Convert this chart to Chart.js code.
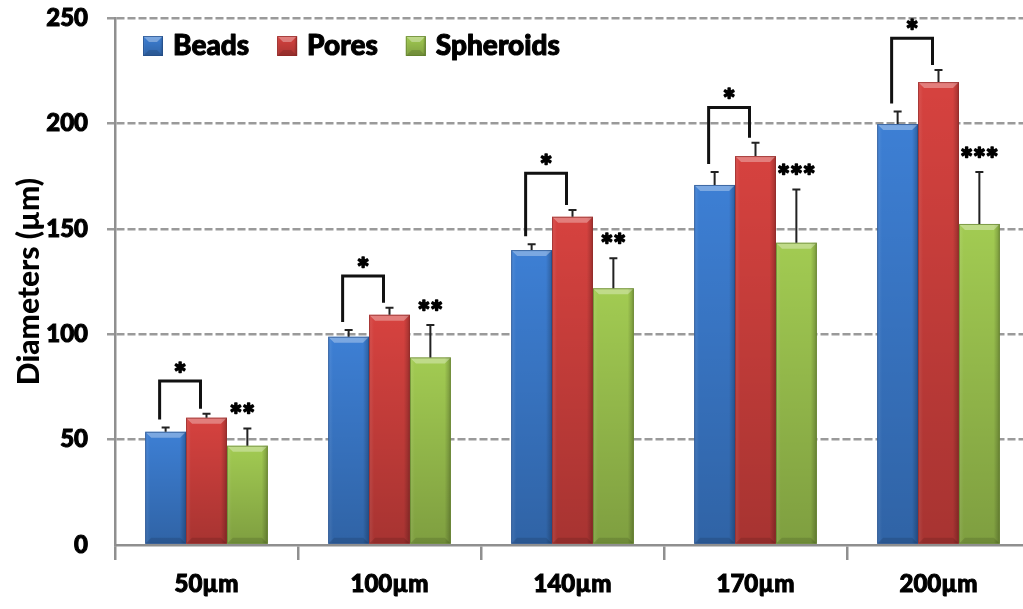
<!DOCTYPE html>
<html>
<head>
<meta charset="utf-8">
<script src="https://cdn.jsdelivr.net/npm/chart.js@4/dist/chart.umd.min.js"></script>
<style>
  html, body { margin: 0; padding: 0; background: #ffffff; overflow: hidden; }
  #wrap { width: 1023px; height: 609px; overflow: hidden; }
</style>
</head>
<body>
<div id="wrap"><canvas id="c" width="1030" height="609"></canvas></div>
<script>
// Particle sizes per template diameter
const categories = ['50µm', '100µm', '140µm', '170µm', '200µm'];
const beads = [53.7, 98.8, 139.9, 170.8, 199.7];
const pores = [60.4, 109.2, 155.7, 184.5, 219.6];
const spheroids = [47.1, 89.0, 121.8, 143.4, 152.3];
// Upper error (SD)
const beadsErr = [2.0, 3.2, 2.8, 6.2, 5.9];
const poresErr = [1.9, 3.4, 3.2, 6.3, 5.7];
const spheroidsErr = [8.2, 15.4, 14.2, 25.3, 24.7];
// Significance markers
const bracketTop = [77.8, 127.6, 176.3, 207.6, 240.4];
const pairLabels = ['*', '*', '*', '*', '*'];
const spheroidLabels = ['**', '**', '**', '***', '***'];
const yMin = 0, yMax = 250, yStep = 50;

const FONT = 'Lato, "DejaVu Sans", sans-serif';
const COLORS = ['#3d7fd4', '#d6423f', '#a2cb52'];
const DARK = ['#244d88', '#8e2725', '#5f7f2a'];
const errs = [beadsErr, poresErr, spheroidsErr];

function bevel(ctx, left, top, right, bottom, i) {
  const w = right - left, h = bottom - top;
  // darker toward the base
  const g = ctx.createLinearGradient(0, top, 0, bottom);
  g.addColorStop(0, 'rgba(0,0,0,0)');
  g.addColorStop(1, 'rgba(0,0,0,0.22)');
  ctx.fillStyle = g;
  ctx.fillRect(left, top, w, h);
  // side shading
  const s = ctx.createLinearGradient(left, 0, right, 0);
  s.addColorStop(0, 'rgba(255,255,255,0.10)');
  s.addColorStop(0.12, 'rgba(255,255,255,0)');
  s.addColorStop(0.85, 'rgba(0,0,0,0)');
  s.addColorStop(1, 'rgba(0,0,0,0.25)');
  ctx.fillStyle = s;
  ctx.fillRect(left, top, w, h);
  // top bevel
  const b = Math.min(6, h / 2);
  ctx.beginPath();
  ctx.moveTo(left, top);
  ctx.lineTo(right, top);
  ctx.lineTo(right - b, top + b);
  ctx.lineTo(left + b, top + b);
  ctx.closePath();
  ctx.fillStyle = 'rgba(255,255,255,0.32)';
  ctx.fill();
  // base bevel
  ctx.beginPath();
  ctx.moveTo(left, bottom);
  ctx.lineTo(right, bottom);
  ctx.lineTo(right - b, bottom - b);
  ctx.lineTo(left + b, bottom - b);
  ctx.closePath();
  ctx.fillStyle = 'rgba(0,0,0,0.12)';
  ctx.fill();
  ctx.strokeStyle = DARK[i];
  ctx.globalAlpha = 0.7;
  ctx.lineWidth = 1;
  ctx.strokeRect(left + 0.5, top + 0.5, w - 1, h - 1);
  ctx.globalAlpha = 1;
}

// heavy text: fill plus a thin outline
function heavyText(ctx, text, x, y, sw) {
  ctx.lineWidth = sw;
  ctx.strokeStyle = '#000';
  ctx.lineJoin = 'round';
  ctx.strokeText(text, x, y);
  ctx.fillText(text, x, y);
}

const decor = {
  id: 'decor',
  afterDatasetsDraw(chart) {
    const ctx = chart.ctx;
    const y = chart.scales.y;
    ctx.save();
    // bar shading
    chart.data.datasets.forEach((ds, i) => {
      chart.getDatasetMeta(i).data.forEach(bar => {
        const left = bar.x - bar.width / 2, right = bar.x + bar.width / 2;
        bevel(ctx, left, bar.y, right, bar.base, i);
      });
    });
    // upper error bars
    chart.data.datasets.forEach((ds, i) => {
      chart.getDatasetMeta(i).data.forEach((bar, j) => {
        const yt = y.getPixelForValue(ds.data[j] + errs[i][j]);
        ctx.strokeStyle = '#222';
        ctx.lineWidth = 2;
        ctx.beginPath();
        ctx.moveTo(bar.x, bar.y);
        ctx.lineTo(bar.x, yt);
        ctx.moveTo(bar.x - 4, yt);
        ctx.lineTo(bar.x + 4, yt);
        ctx.stroke();
      });
    });
    // brackets between beads and pores, labels over spheroids
    const mB = chart.getDatasetMeta(0).data, mP = chart.getDatasetMeta(1).data, mS = chart.getDatasetMeta(2).data;
    ctx.font = '900 30px ' + FONT;
    ctx.textAlign = 'center';
    ctx.textBaseline = 'middle';
    categories.forEach((c, j) => {
      const xl = mB[j].x - 6, xr = mP[j].x - 6;
      const yl = y.getPixelForValue(beads[j] + beadsErr[j]) - 8;
      const yr = y.getPixelForValue(pores[j] + poresErr[j]) - 5;
      const yt = y.getPixelForValue(bracketTop[j]);
      ctx.strokeStyle = '#111';
      ctx.lineWidth = 3;
      ctx.lineJoin = 'miter';
      ctx.beginPath();
      ctx.moveTo(xl, yl);
      ctx.lineTo(xl, yt);
      ctx.lineTo(xr, yt);
      ctx.lineTo(xr, yr);
      ctx.stroke();
      ctx.fillStyle = '#000';
      heavyText(ctx, pairLabels[j], (xl + xr) / 2, yt - 6, 1.5);
      const ys = y.getPixelForValue(spheroids[j] + spheroidsErr[j]) - 12;
      heavyText(ctx, spheroidLabels[j], mS[j].x - (j === 0 ? 5 : 0), ys, 1.5);
    });
    ctx.restore();
  },
  afterDraw(chart) {
    // legend
    const ctx = chart.ctx;
    ctx.save();
    ctx.font = '900 28px ' + FONT;
    ctx.textBaseline = 'middle';
    ctx.textAlign = 'left';
    let x = 143;
    const yc = 46;
    chart.data.datasets.forEach((ds, i) => {
      ctx.fillStyle = COLORS[i];
      ctx.fillRect(x, yc - 10, 20, 20);
      bevel(ctx, x, yc - 10, x + 20, yc + 10, i);
      ctx.fillStyle = '#000';
      heavyText(ctx, ds.label, x + 30, yc, 1);
      x += 30 + ctx.measureText(ds.label).width + 28;
    });
    ctx.restore();
  }
};

new Chart(document.getElementById('c'), {
  type: 'bar',
  data: {
    labels: categories,
    datasets: [
      { label: 'Beads', data: beads, backgroundColor: COLORS[0] },
      { label: 'Pores', data: pores, backgroundColor: COLORS[1] },
      { label: 'Spheroids', data: spheroids, backgroundColor: COLORS[2] }
    ]
  },
  options: {
    responsive: false,
    animation: false,
    events: [],
    layout: { padding: { top: 18, right: 0, left: 0, bottom: 0 } },
    datasets: { bar: { categoryPercentage: 0.67, barPercentage: 1.0, borderWidth: 0 } },
    plugins: { legend: { display: false }, tooltip: { enabled: false } },
    scales: {
      x: {
        afterFit(s) { s.height = 64; s.paddingLeft = 0; s.paddingRight = 0; },
        grid: { offset: true, drawOnChartArea: false, drawTicks: true, tickLength: 15, color: '#8f8f8f', lineWidth: 2.5 },
        border: { display: true, color: '#8f8f8f', width: 2.5 },
        ticks: { color: '#000', padding: 10, textStrokeColor: '#000', textStrokeWidth: 1, font: { family: FONT, size: 24, weight: '900' } }
      },
      y: {
        min: yMin, max: yMax,
        afterFit(s) { s.width = 115; s.paddingTop = 0; s.paddingBottom = 0; },
        grid: {
          color: ctx => ctx.tick && ctx.tick.value === 0 ? 'rgba(0,0,0,0)' : '#9a9a9a',
          lineWidth: 2.5, tickLength: 8
        },
        border: { display: true, color: '#8f8f8f', width: 2.5, dash: [8, 3] },
        ticks: { stepSize: yStep, color: '#000', padding: 19, textStrokeColor: '#000', textStrokeWidth: 1, font: { family: FONT, size: 24, weight: '900' } },
        title: { display: true, text: 'Diameters (µm)', color: '#000', padding: { top: 11, bottom: 0 }, font: { family: FONT, size: 30, weight: '900' } }
      }
    }
  },
  plugins: [decor]
});
</script>
</body>
</html>
